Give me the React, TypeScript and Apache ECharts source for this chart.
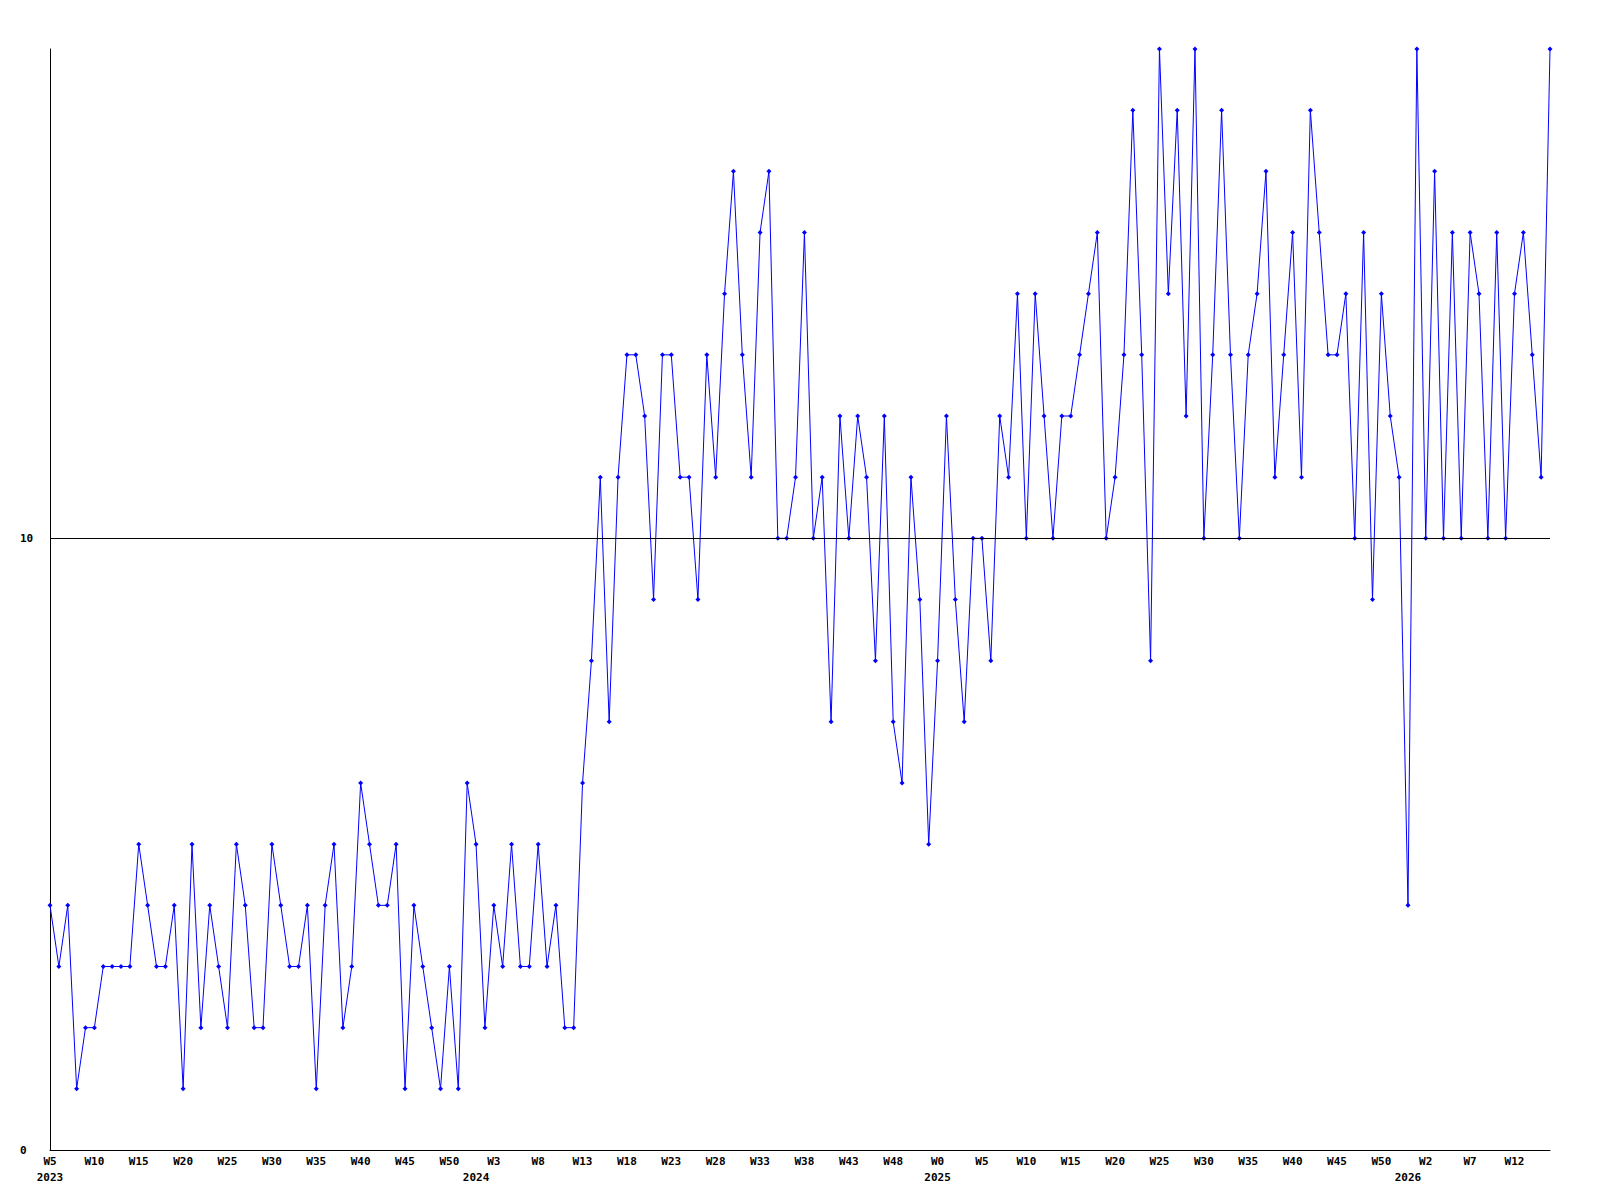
import React, { useEffect, useRef } from "react";
import * as echarts from "echarts";

// Week ranges per year (first week, last week) covered by the series
const yearSegments: [number, number, number][] = [
  [2023, 5, 52],
  [2024, 1, 52],
  [2025, 0, 52],
  [2026, 0, 16],
];

// Weekly values, 2023 W5 .. 2026 W16
const values2023: number[] = [
  4, 3, 4, 1, 2, 2, 3, 3, 3, 3, 5, 4, 3, 3, 4, 1, 5, 2, 4, 3, 2, 5,
  4, 2, 2, 5, 4, 3, 3, 4, 1, 4, 5, 2, 3, 6, 5, 4, 4, 5, 1, 4, 3,
  2, 1, 3, 1, 6,
];
const values2024: number[] = [
  5, 2, 4, 3, 5, 3, 3, 5, 3, 4, 2, 2, 6,
  8, 11, 7, 11, 13, 13, 12, 9, 13, 13, 11, 11, 9, 13, 11, 14, 16, 13, 11, 15, 16, 10, 10,
  11, 15, 10, 11, 7, 12, 10, 12, 11, 8, 12, 7, 6, 11, 9, 5,
];
const values2025: number[] = [
  8, 12, 9, 7, 10,
  10, 8, 12, 11, 14, 10, 14, 12, 10, 12, 12, 13, 14, 15, 10, 11, 13, 17, 13, 8, 18, 14,
  17, 12, 18, 10, 13, 17, 13, 10, 13, 14, 16, 11, 13, 15, 11, 17, 15, 13, 13, 14, 10,
  15, 9, 14, 12, 11,
];
const values2026: number[] = [4, 18, 10, 16, 10, 15, 10, 15, 14, 10, 15, 10, 14, 15, 13, 11, 18];

const yMax = 18;
const refLineValue = 10;

export default function App() {
  const ref = useRef<HTMLDivElement>(null);

  useEffect(() => {
    if (!ref.current) return;
    const chart = echarts.init(ref.current, undefined, { renderer: "svg" });

    const weekLabels: string[] = [];
    const yearOf: number[] = [];
    const yearStart: boolean[] = [];
    yearSegments.forEach(([year, from, to]) => {
      for (let w = from; w <= to; w++) {
        weekLabels.push("W" + w);
        yearOf.push(year);
        yearStart.push(w === from);
      }
    });
    const data = [...values2023, ...values2024, ...values2025, ...values2026];

    const font = {
      fontFamily: "DejaVu Sans Mono",
      fontWeight: "bold" as const,
      fontSize: 11,
      color: "#000",
    };

    chart.setOption({
      animation: false,
      backgroundColor: "#fff",
      grid: { left: 50, right: 50, top: 49, bottom: 50, containLabel: false },
      xAxis: [
        {
          type: "category",
          data: weekLabels,
          boundaryGap: false,
          axisLine: { show: true, lineStyle: { color: "#000", width: 1 } },
          axisTick: { show: false },
          splitLine: { show: false },
          axisLabel: { ...font, interval: 4, margin: 6 },
        },
        {
          type: "category",
          data: weekLabels,
          boundaryGap: false,
          position: "bottom",
          axisLine: { show: false },
          axisTick: { show: false },
          splitLine: { show: false },
          axisLabel: {
            ...font,
            margin: 22,
            interval: (idx: number) => yearStart[idx],
            formatter: (_v: string, idx: number) => String(yearOf[idx]),
          },
        },
      ],
      yAxis: {
        type: "value",
        min: 0,
        max: yMax,
        interval: 10,
        axisLine: { show: true, lineStyle: { color: "#000", width: 1 } },
        axisTick: { show: false },
        splitLine: { show: false },
        axisLabel: {
          ...font,
          align: "left",
          margin: 30,
          showMaxLabel: false,
          formatter: (v: number) => (v % 10 === 0 ? String(v) : ""),
        },
      },
      series: [
        {
          type: "line",
          data,
          xAxisIndex: 0,
          symbol: "diamond",
          symbolSize: 5,
          showSymbol: true,
          itemStyle: { color: "#0000ff" },
          lineStyle: { color: "#0000ff", width: 1 },
          markLine: {
            silent: true,
            symbol: ["none", "none"],
            label: { show: false },
            lineStyle: { color: "#000", width: 1, type: "solid" },
            data: [{ yAxis: refLineValue }],
          },
          z: 3,
        },
      ],
    });

    return () => chart.dispose();
  }, []);

  return (
    <div
      ref={ref}
      style={{ position: "absolute", left: 0, top: 0, width: 1600, height: 1200, background: "#fff" }}
    />
  );
}
